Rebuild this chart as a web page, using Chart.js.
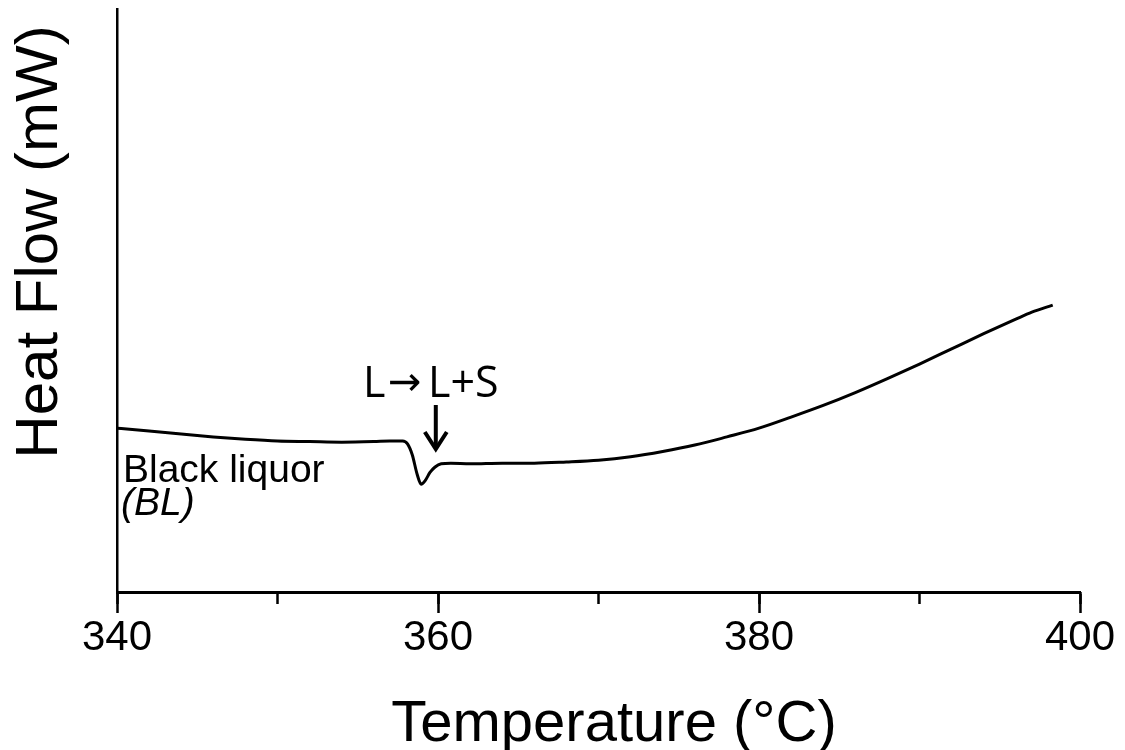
<!DOCTYPE html>
<html>
<head>
<meta charset="utf-8">
<script src="https://cdn.jsdelivr.net/npm/chart.js@4"></script>
<style>
  body { margin: 0; background: #fff; }
</style>
</head>
<body>
<canvas id="dscChart" width="1125" height="750"></canvas>
<script>
// DSC trace of black liquor (arbitrary mW units)
var temps = [340, 342, 344, 346, 348, 350, 352, 354, 356, 357, 357.8, 358.1, 358.4, 358.7, 358.95,
  359.2, 359.5, 359.8, 360.2, 360.8, 362, 364, 366, 368, 370, 372, 374, 376, 378, 380,
  382, 384, 386, 388, 390, 392, 394, 396, 397, 398.3];
var heatFlow = [2.81, 2.76, 2.71, 2.66, 2.62, 2.59, 2.58, 2.57, 2.58, 2.59, 2.59, 2.54, 2.35, 2.02, 1.85,
  1.91, 2.05, 2.14, 2.20, 2.21, 2.20, 2.21, 2.21, 2.23, 2.26, 2.32, 2.41, 2.52, 2.66, 2.81,
  3.00, 3.20, 3.42, 3.66, 3.91, 4.17, 4.43, 4.68, 4.80, 4.92];

var xTickValues = [340, 360, 380, 400];
var xMinorStep = 10;

var xTitle = 'Temperature (°C)';
var yTitle = 'Heat Flow (mW)';
var transitionParts = ['L', '→', 'L+S'];
var sampleLabel = 'Black liquor';
var sampleAbbrev = '(BL)';
var transitionTemp = 359.8;

var points = temps.map((t, i) => ({ x: t, y: heatFlow[i] }));

var arial = 'Arial, "Liberation Sans", sans-serif';

// annotations + axis titles
var annotations = {
  id: 'annotations',
  afterDraw(chart) {
    var ctx = chart.ctx;
    var xs = chart.scales.x;
    ctx.save();
    ctx.fillStyle = '#000';
    ctx.strokeStyle = '#000';

    // y axis title
    ctx.save();
    ctx.translate(40, 242);
    ctx.rotate(-Math.PI / 2);
    ctx.font = '60px ' + arial;
    ctx.textAlign = 'center';
    ctx.textBaseline = 'middle';
    ctx.fillText(yTitle, 0, 0);
    ctx.restore();

    // x axis title
    ctx.font = '58px ' + arial;
    ctx.textAlign = 'center';
    ctx.textBaseline = 'alphabetic';
    ctx.fillText(xTitle, 614, 741);

    // transition label, arrow glyph in a font that has a full size one
    ctx.textAlign = 'left';
    ctx.font = '43px "Open Sans", sans-serif';
    ctx.fillText(transitionParts[0], 363, 397);
    ctx.font = '40px "DejaVu Sans", sans-serif';
    ctx.fillText(transitionParts[1], 388, 395);
    ctx.font = '43px "Open Sans", sans-serif';
    ctx.fillText(transitionParts[2], 428, 397);

    // down arrow
    var ax = xs.getPixelForValue(transitionTemp) + 1;
    ctx.lineWidth = 4;
    ctx.lineCap = 'butt';
    ctx.beginPath();
    ctx.moveTo(ax, 405);
    ctx.lineTo(ax, 448);
    ctx.stroke();
    ctx.lineJoin = 'miter';
    ctx.beginPath();
    ctx.moveTo(ax - 11, 432);
    ctx.lineTo(ax, 449);
    ctx.lineTo(ax + 11, 432);
    ctx.stroke();

    // sample label
    ctx.font = '39px ' + arial;
    ctx.fillText(sampleLabel, 123, 482);
    ctx.font = 'italic 39px ' + arial;
    ctx.fillText(sampleAbbrev, 121, 515);
    ctx.restore();
  }
};

var ctx = document.getElementById('dscChart').getContext('2d');
var dscChart = new Chart(ctx, {
  type: 'line',
  data: {
    datasets: [{
      data: points,
      borderColor: '#000',
      borderWidth: 3,
      pointRadius: 0,
      cubicInterpolationMode: 'monotone',
      fill: false
    }]
  },
  options: {
    responsive: false,
    animation: false,
    layout: { padding: { top: 9, right: 45, left: 0, bottom: 0 } },
    plugins: {
      legend: { display: false },
      tooltip: { enabled: false }
    },
    scales: {
      x: {
        type: 'linear',
        position: 'bottom',
        weight: 1,
        min: 340,
        max: 400,
        afterBuildTicks(scale) {
          scale.ticks = xTickValues.map(v => ({ value: v }));
        },
        afterFit(scale) { scale.height = 158; },
        grid: {
          drawOnChartArea: false,
          tickLength: 21,
          tickWidth: 2.5,
          color: '#000'
        },
        border: { color: '#000', width: 3 },
        ticks: {
          color: '#000',
          padding: 0,
          font: { family: arial, size: 42 }
        },
        title: { display: false, text: xTitle }
      },
      xMinor: {
        type: 'linear',
        position: 'bottom',
        weight: 0,
        min: 340,
        max: 400,
        afterFit(scale) { scale.height = 0; },
        ticks: { display: false, stepSize: xMinorStep },
        grid: {
          drawOnChartArea: false,
          tickLength: 12,
          tickWidth: 2.5,
          color: '#000'
        },
        border: { display: false }
      },
      y: {
        type: 'linear',
        position: 'left',
        min: 0,
        max: 10,
        afterFit(scale) { scale.width = 117; },
        grid: { display: false },
        ticks: { display: false },
        border: { color: '#000', width: 2.5 },
        title: { display: false, text: yTitle }
      }
    }
  },
  plugins: [annotations]
});
</script>
</body>
</html>
